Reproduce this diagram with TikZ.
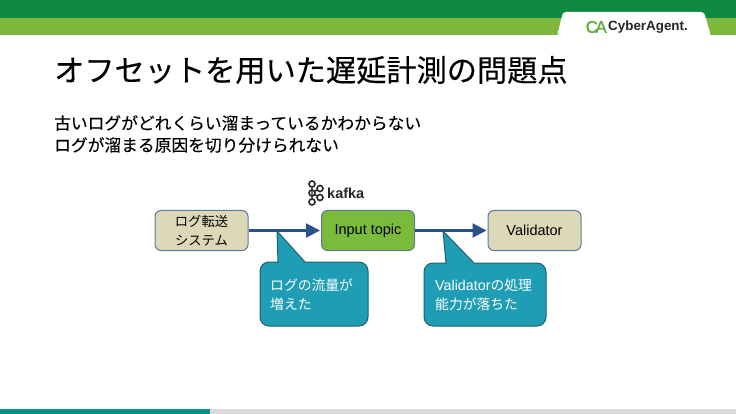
\documentclass[tikz,border=0pt]{standalone}
\usepackage{xcolor}
\usepackage{fontspec}
\setmainfont{Noto Sans CJK JP}
\newfontfamily\titlefont[FakeBold=0.3]{Noto Sans CJK JP}
\newfontfamily\bodyfont[FakeBold=0.1]{Noto Sans CJK JP}
\newfontfamily\latinfont{Liberation Sans}
\newfontfamily\logofont{Liberation Sans}
\newfontfamily\markfont[FakeBold=1.2]{Liberation Sans}
\usetikzlibrary{arrows.meta}
\definecolor{headdark}{HTML}{0E8A42}
\definecolor{headlight}{HTML}{7DB83C}
\definecolor{barteal}{HTML}{009282}
\definecolor{bargray}{HTML}{D9D9D9}
\definecolor{boxtan}{HTML}{DDD9B8}
\definecolor{boxgreen}{HTML}{7BBB3C}
\definecolor{boxline}{HTML}{5B7C99}
\definecolor{linkblue}{HTML}{2A5288}
\definecolor{calloutfill}{HTML}{1F9DB5}
\definecolor{calloutline}{HTML}{1F5F6E}
\tikzset{
  flowbox/.style={draw=boxline, line width=1pt, rounded corners=6pt, minimum width=93pt, minimum height=40pt, inner sep=0pt, align=center, font=\fontsize{13.3}{19}\selectfont},
  flowlink/.style={draw=linkblue, line width=2.2pt, -{Triangle[length=14pt,width=14pt]}, shorten >=1pt},
  calloutshape/.style={draw=calloutline, fill=calloutfill, line width=1pt},
  callouttext/.style={text=white, align=left, anchor=west, inner sep=0pt, font=\fontsize{13.8}{18.5}\selectfont},
  bodytext/.style={anchor=west, inner sep=0pt, font=\bodyfont\fontsize{16.75}{22}\selectfont}
}
\begin{document}
\begin{tikzpicture}[x=1pt,y=-1pt]
  \useasboundingbox (0,0) rectangle (736,414);
  \fill[white] (0,0) rectangle (736,414);

  % header
  \fill[headdark] (0,0) rectangle (736,18);
  \fill[headlight] (0,18) rectangle (736,35);
  \fill[white, rounded corners=3pt] (557,36) -- (563,12) -- (704,12) -- (711,36) -- cycle;

  % logo
  \node[inner sep=0pt, anchor=east, font=\markfont\fontsize{17}{17}\selectfont] (logomark) at (607,27) {\textcolor{headlight!75!headdark}{C\kern-2.5pt A}};
  \node[inner sep=0pt, anchor=west, text=black!85, font=\logofont\bfseries\fontsize{13.4}{15}\selectfont] (logoname) at (608,27.5) {CyberAgent.};

  % footer
  \fill[bargray] (210,409) rectangle (736,414);
  \fill[barteal] (0,409) rectangle (210,414);

  % text
  \node[anchor=west, inner sep=0pt, font=\titlefont\fontsize{30.2}{30}\selectfont] (title) at (54,70) {オフセットを用いた遅延計測の問題点};
  \node[bodytext] (lineone) at (54,123) {古いログがどれくらい溜まっているかわからない};
  \node[bodytext] (linetwo) at (54,145) {ログが溜まる原因を切り分けられない};

  % flow
  \node[flowbox, fill=boxtan] (logsystem) at (201.5,230.5) {ログ転送\\システム};
  \node[flowbox, fill=boxgreen] (inputtopic) at (368,230.5) {\latinfont\fontsize{14.5}{19}\selectfont Input topic};
  \node[flowbox, fill=boxtan] (validator) at (534.5,230.5) {\latinfont\fontsize{14.5}{19}\selectfont Validator};
  \draw[flowlink] (logsystem) -- (inputtopic);
  \draw[flowlink] (inputtopic) -- (validator);

  % kafka mark
  \foreach \px/\py in {312/184, 312/193, 312/202, 320/188.5, 320/197.5}
    \draw[black!85, line width=1.6pt] (\px,\py) circle (3pt);
  \draw[black!85, line width=1.4pt] (312,187) -- (312,199) (314.5,191.3) -- (317.5,190) (314.5,194.7) -- (317.5,196);
  \node[anchor=west, inner sep=0pt, font=\logofont\bfseries\fontsize{14.5}{15}\selectfont, text=black!85] (kafkaname) at (327,193) {kafka};

  % callouts
  \coordinate (tipflow) at (277,231);
  \coordinate (tipvalid) at (443,231);
  \draw[calloutshape] (330,262) [rounded corners=9pt] -- (368,262) -- (368,326) -- (260,326) -- (260,262) [sharp corners] -- (278,262) -- (tipflow) -- (305,262) -- cycle;
  \node[callouttext] (flowtext) at (270,294.5) {ログの流量が\\増えた};
  \draw[calloutshape] (500,263) [rounded corners=9pt] -- (546,263) -- (546,326) -- (424,326) -- (424,263) [sharp corners] -- (446,263) -- (tipvalid) -- (474,263) -- cycle;
  \node[callouttext] (validtext) at (435,295) {{\latinfont\fontsize{14.3}{18.5}\selectfont Validator}の処理\\能力が落ちた};
\end{tikzpicture}
\end{document}
